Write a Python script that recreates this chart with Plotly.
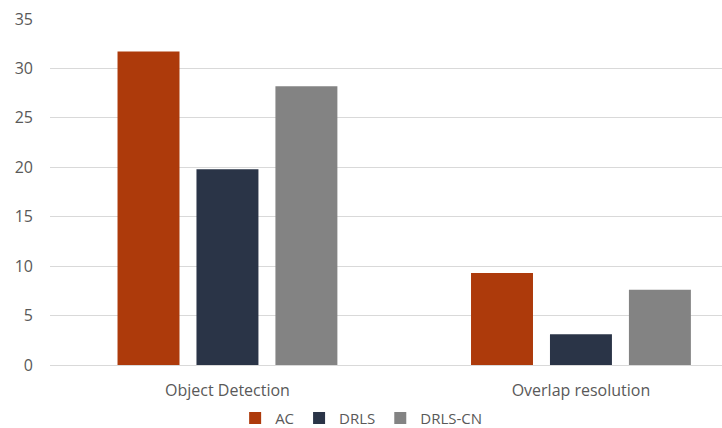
import plotly.graph_objects as go

categories = ["Object Detection", "Overlap resolution"]
series_names = ["AC", "DRLS", "DRLS-CN"]
ac_values = [31.7, 9.3]
drls_values = [19.8, 3.1]
drlscn_values = [28.2, 7.6]
y_ticks = [0, 5, 10, 15, 20, 25, 30, 35]

colors = ["#AD3A0B", "#2A3447", "#838383"]
font_family = "Open Sans, Noto Sans, sans-serif"

fig = go.Figure()
for name, vals, col in zip(series_names, [ac_values, drls_values, drlscn_values], colors):
    fig.add_trace(go.Bar(
        x=categories, y=vals, name=name,
        marker=dict(color=col, line=dict(width=0)),
    ))

fig.update_layout(
    width=722, height=428,
    margin=dict(l=50, r=0, t=19, b=63, autoexpand=False),
    paper_bgcolor="white", plot_bgcolor="white",
    barmode="group", bargap=0.33, bargroupgap=0.215,
    font=dict(family=font_family, size=16, color="#595959"),
    xaxis=dict(
        range=[-0.502, 1.399], showgrid=False, showline=False,
        ticks="", ticklabelstandoff=14,
        tickfont=dict(size=16, color="#595959"),
        zeroline=False, automargin=False,
    ),
    yaxis=dict(
        range=[0, 35], tickvals=y_ticks, showgrid=True,
        gridcolor="#D9D9D9", gridwidth=1, zeroline=True,
        zerolinecolor="#D9D9D9", zerolinewidth=1, showline=False,
        ticks="", ticklabelstandoff=16, automargin=False,
        tickfont=dict(size=16, color="#595959"),
    ),
    legend=dict(
        orientation="h", x=0.463, xanchor="center",
        yref="container", y=0.023, yanchor="middle",
        font=dict(size=15, color="#595959"), itemwidth=30,
        bgcolor="rgba(0,0,0,0)",
    ),
    showlegend=True,
)

fig.write_html("out.html")
